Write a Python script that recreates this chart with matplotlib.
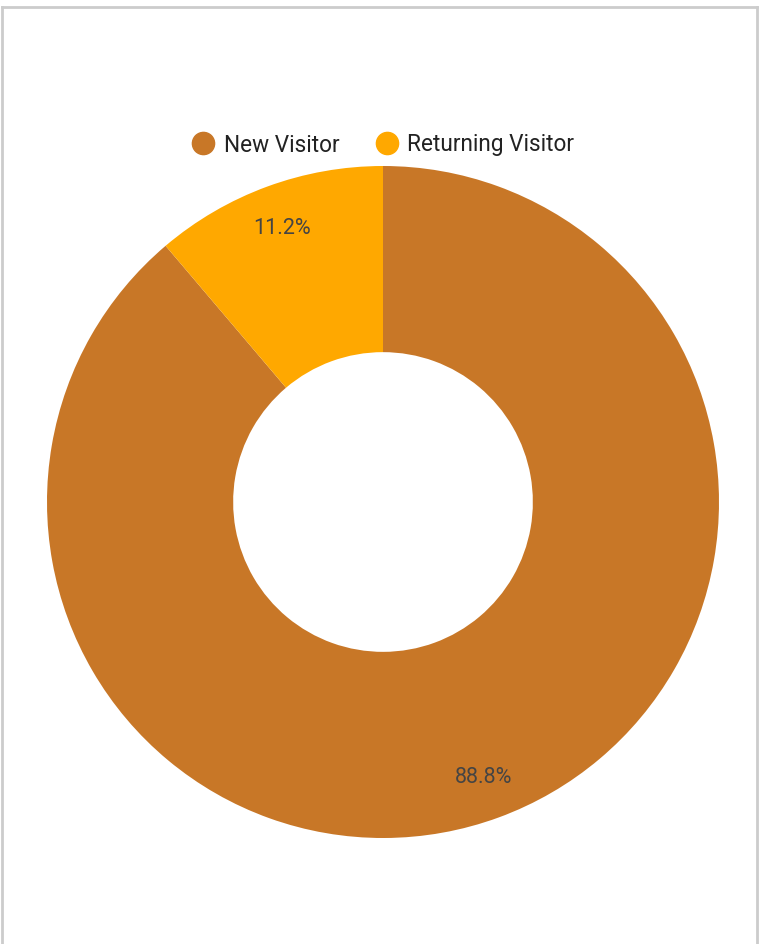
import matplotlib.pyplot as plt
from matplotlib.lines import Line2D

labels = ['New Visitor', 'Returning Visitor']
shares = [88.8, 11.2]
colors = ['#C87727', '#FFA800']

plt.rcParams['font.family'] = ['Roboto', 'DejaVu Sans']

fig = plt.figure(figsize=(7.62, 9.45), dpi=100)

# light gray frame (no bottom edge)
W, H = 762, 945
for x0, y0, x1, y1 in [(2, 8, 757, 8), (2, 8, 2, 945), (757, 8, 757, 945)]:
    fig.add_artist(Line2D([x0 / W, x1 / W], [1 - y0 / H, 1 - y1 / H],
                          color='#cccccc', lw=2, transform=fig.transFigure))

cx, cy, r = 383, 503, 336
ax = fig.add_axes([(cx - r) / W, 1 - (cy + r) / H, 2 * r / W, 2 * r / H])
wedges, texts, autotexts = ax.pie(
    shares, colors=colors, startangle=90, counterclock=False,
    autopct='%.1f%%', pctdistance=0.87,
    wedgeprops=dict(width=0.554, linewidth=0),
    textprops=dict(fontsize=15.5, color='#444444'))
ax.set_xlim(-1, 1)
ax.set_ylim(-1, 1)
ax.set_aspect('equal')
ax.axis('off')

handles = [Line2D([], [], marker='o', linestyle='none', markersize=16,
                  markerfacecolor=c, markeredgecolor=c) for c in colors]
fig.legend(handles, labels, loc='center', bbox_to_anchor=(cx / W, 1 - 145 / H),
           ncol=2, frameon=False, fontsize=16.3, handlelength=1.0,
           handletextpad=0.4, columnspacing=1.6, labelcolor='#222222')

fig.savefig('out.png', dpi=100)
